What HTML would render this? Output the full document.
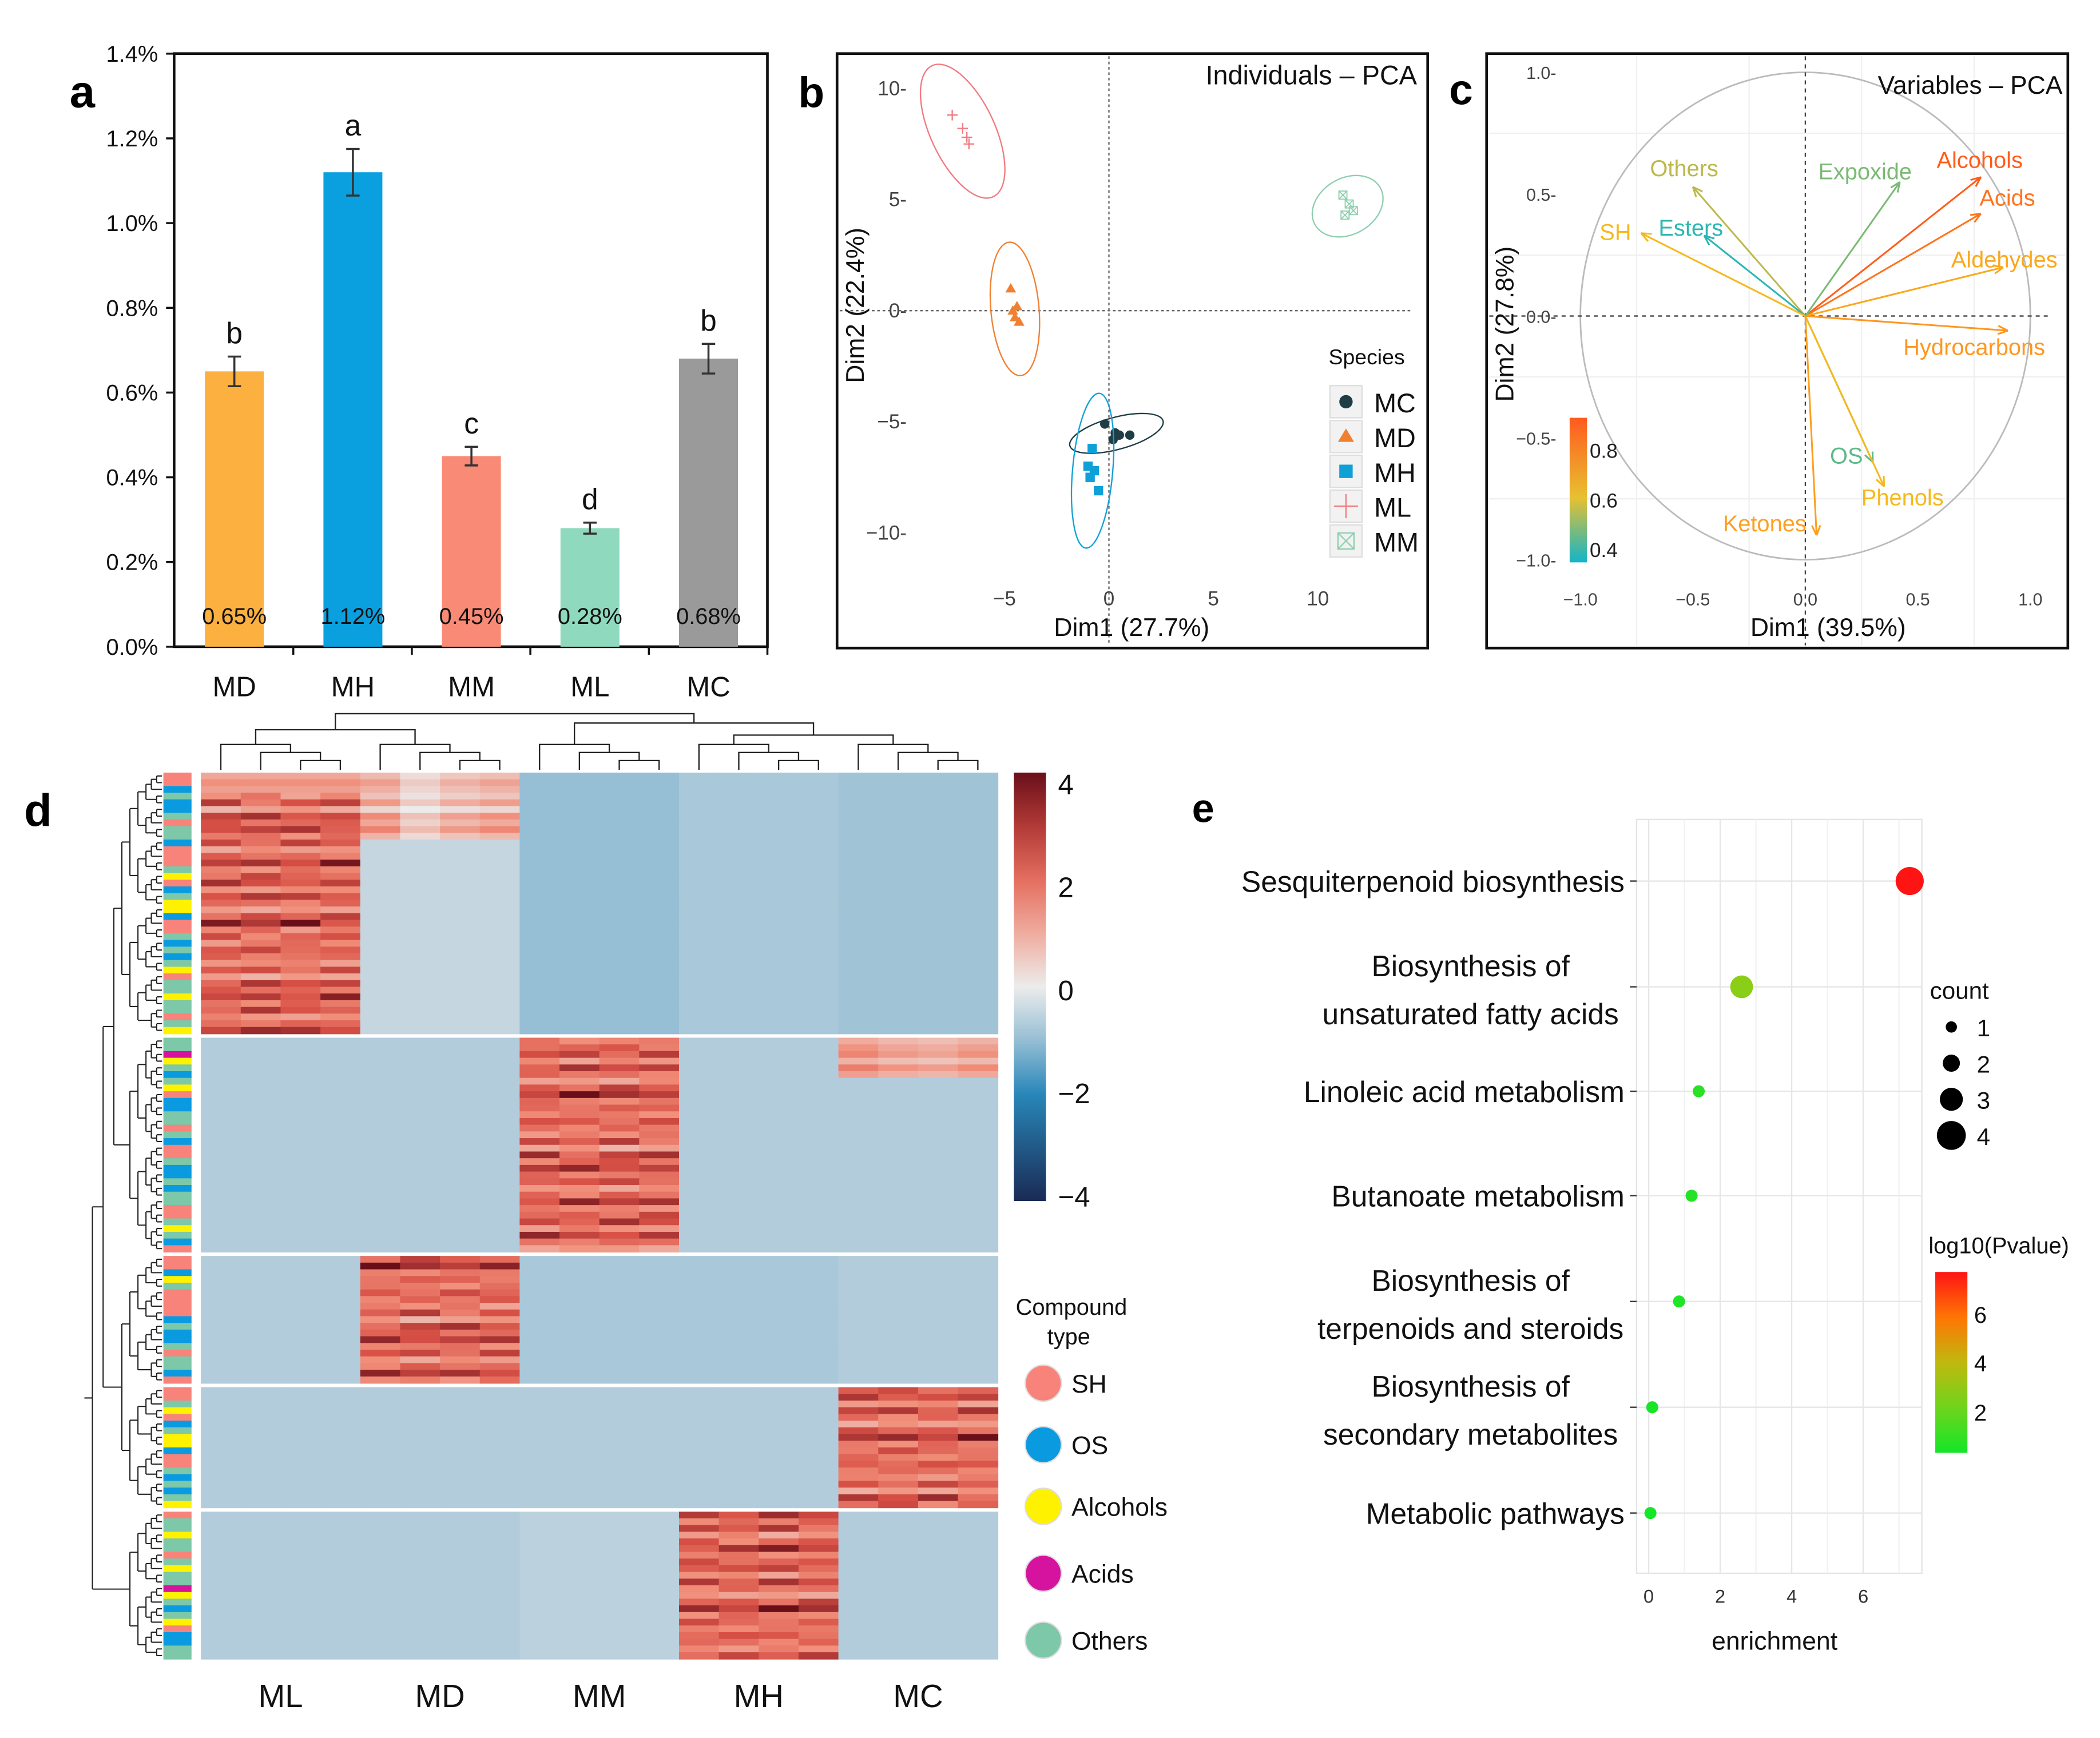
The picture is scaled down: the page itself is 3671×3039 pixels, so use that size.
<!DOCTYPE html>
<html><head><meta charset="utf-8"><style>
html,body{margin:0;padding:0;background:#fff}
svg{display:block}
text{font-family:"Liberation Sans",Arial,sans-serif}
</style></head><body>
<svg id="fig" xmlns="http://www.w3.org/2000/svg" width="3671" height="3039" viewBox="0 0 1568 1298">
<rect width="1568" height="1298" fill="#fff"/>
</svg>
<script>
// ---------- DATA ----------
const barCats = ['MD','MH','MM','ML','MC'];
const barVals = [0.65,1.12,0.45,0.28,0.68];
const barErr = [0.035,0.055,0.022,0.013,0.035];
const barLetters = ['b','a','c','d','b'];
const barColors = ['#FBB040','#0AA0DF','#F98B76','#8FD9BF','#9A9A9A'];
const yTicksA = [0,0.2,0.4,0.6,0.8,1.0,1.2,1.4];

const pcaSpecies = ['MC','MD','MH','ML','MM'];
const pcaX = [[-0.2,0.3,0.5,1.0,0.2],[-4.7,-4.6,-4.5,-4.4,-4.3],[-0.8,-0.7,-0.9,-0.5,-1.0],[-7.5,-7.0,-6.8,-6.7],[11.2,11.5,11.7,11.3]];
const pcaY = [[-5.1,-5.5,-5.6,-5.6,-5.8],[1.0,0.0,-0.3,0.2,-0.5],[-6.2,-7.2,-7.5,-8.1,-7.0],[8.8,8.2,7.8,7.5],[5.2,4.8,4.5,4.3]];
const xTicksB = [-5,0,5,10];
const yTicksB = [-10,-5,0,5,10];

const varNames = ['Alcohols','Acids','Aldehydes','Hydrocarbons','Expoxide','Others','Esters','SH','OS','Phenols','Ketones'];
const varX = [0.78,0.78,0.88,0.9,0.42,-0.5,-0.45,-0.73,0.3,0.35,0.05];
const varY = [0.57,0.42,0.2,-0.06,0.55,0.53,0.33,0.34,-0.6,-0.7,-0.9];
const varCos = [0.78,0.74,0.64,0.68,0.47,0.53,0.38,0.6,0.44,0.6,0.66];
const xTicksC = [-1.0,-0.5,0.0,0.5,1.0];
const yTicksC = [-1.0,-0.5,0.0,0.5,1.0];

const heatGroups = ['ML','MD','MM','MH','MC'];
const blockRows = [39,32,19,18,22];
const blockBase = [[0,-0.5,-1.0,-0.8,-0.9],[-0.7,-0.7,0,-0.7,-0.7],[-0.7,0,-0.8,-0.8,-0.7],[-0.7,-0.7,-0.7,-0.7,0],[-0.7,-0.7,-0.6,0,-0.7]];
const blockHi = [0,2,1,4,3];
const rowAmp = [1.8,2.4,2.0,1.6,2.5,1.2,2.8,2.2,3.0,1.9,2.6,1.4,2.1,3.2,1.7,2.3,2.7,1.5,2.9,2.0,1.3,2.4,3.4,1.8,2.2];
const colAmp = [1.0,0.8,1.1,0.9,1.2,0.7,1.0,1.15,0.85,0.95,1.05,0.75,1.1,0.9,1.0,0.8,1.2,0.95,0.85,1.05];
const compType = [0,0,1,4,1,1,4,0,4,4,1,0,0,0,4,2,0,1,4,2,2,1,0,0,4,1,4,1,4,2,0,4,4,2,4,4,0,4,2,4,4,3,2,4,1,4,2,0,1,1,4,4,0,4,1,0,0,4,1,1,4,1,4,4,0,0,4,2,4,1,0,0,0,1,2,4,0,0];
const typeNames = ['SH','OS','Alcohols','Acids','Others'];
const typeColors = ['#F8837A','#0A9AE0','#FFF200','#D6139F','#7CC8A8'];
const heatTicks = [4,2,0,-2,-4];

const pathNames = ['Sesquiterpenoid biosynthesis','Biosynthesis of|unsaturated fatty acids','Linoleic acid metabolism','Butanoate metabolism','Biosynthesis of|terpenoids and steroids','Biosynthesis of|secondary metabolites','Metabolic pathways'];
const pathEnrich = [7.3,2.6,1.4,1.2,0.85,0.1,0.05];
const pathCount = [4,3,1,1,1,1,1];
const pathLogP = [7,3,1.2,1.1,1.0,0.9,0.8];
const xTicksE = [0,2,4,6];

// ---------- HELPERS ----------
const S = document.getElementById('fig');
const NS = 'http://www.w3.org/2000/svg';
function mk(tag, attrs, parent){const e=document.createElementNS(NS,tag);for(const k in attrs)e.setAttribute(k,attrs[k]);(parent||S).appendChild(e);return e;}
function txt(x,y,s,size,anchor,fill,weight){const e=mk('text',{x:x,y:y,'font-size':size,'text-anchor':anchor||'start',fill:fill||'#111','font-weight':weight||'normal'});e.textContent=s;return e;}
let el;

// ---------- PANEL A ----------
const ay = v => 483 - v*316.4;
const ax = i => 175 + i*88.5;
el = txt(52,80,'a',34,'start','#000','bold');
 
el = mk('rect',{x:130,y:40,width:443,height:443,fill:'none',stroke:'#111','stroke-width':2});
 
yTicksA.forEach(v=>{
  el = mk('line',{x1:124,x2:130,y1:ay(v),y2:ay(v),stroke:'#111','stroke-width':1.5});
   
  el = txt(118,ay(v)+6,v.toFixed(1)+'%',17,'end');
   
});
barVals.forEach((v,i)=>{
  el = mk('rect',{x:ax(i)-22,y:ay(v),width:44,height:483-ay(v),fill:barColors[i]});
   
  const e1=ay(v+barErr[i]), e2=ay(v-barErr[i]);
  el = mk('path',{d:`M${ax(i)},${e1}V${e2}M${ax(i)-5},${e1}h10M${ax(i)-5},${e2}h10`,stroke:'#333','stroke-width':1.5,fill:'none'});
   
  el = txt(ax(i),e1-10,barLetters[i],22,'middle');
   
  el = txt(ax(i),466,(v).toFixed(2)+'%',17,'middle');
   
  el = txt(ax(i),520,barCats[i],21,'middle');
   
  el = mk('line',{x1:ax(i)+44,x2:ax(i)+44,y1:483,y2:489,stroke:'#111','stroke-width':1.5});
   
});

// ---------- PANEL B ----------
const bx = v => 828 + v*15.6;
const by = v => 232 - v*16.6;
el = txt(596,80,'b',32,'start','#000','bold');
 
el = mk('rect',{x:625,y:40,width:441,height:444,fill:'#fff',stroke:'#111','stroke-width':2});
 
el = txt(1058,63,'Individuals – PCA',20,'end');
 
el = mk('line',{x1:bx(0),x2:bx(0),y1:42,y2:482,stroke:'#666','stroke-dasharray':'2,2'});
 
el = mk('line',{x1:627,x2:1053,y1:by(0),y2:by(0),stroke:'#666','stroke-dasharray':'2,2'});
 
xTicksB.forEach(v=>{
  el = txt(bx(v),452,String(v).replace('-','−'),15,'middle','#444');
   
});
yTicksB.forEach(v=>{
  el = txt(677,by(v)+5,String(v).replace('-','−')+'-',15,'end','#444');
   
});
el = txt(845,475,'Dim1 (27.7%)',19,'middle');
 
el = txt(0,0,'Dim2 (22.4%)',19,'middle');
el.setAttribute('transform','translate(645,228) rotate(-90)');
 
const spColors = ['#1F3D45','#F08030','#10A0D8','#F07A80','#8ECFB0'];
const ellR = [[36,12,-15],[18,50,-5],[15,58,5],[24,54,-25],[28,21,-30]];
pcaSpecies.forEach((sp,k)=>{
  const mx = pcaX[k].reduce((a,b)=>a+b,0)/pcaX[k].length, my = pcaY[k].reduce((a,b)=>a+b,0)/pcaY[k].length;
  el = mk('ellipse',{cx:bx(mx),cy:by(my),rx:ellR[k][0],ry:ellR[k][1],fill:'none',stroke:spColors[k],'stroke-width':1,transform:`rotate(${ellR[k][2]} ${bx(mx)} ${by(my)})`});
   
  pcaX[k].forEach((xv,j)=>{
    const px=bx(xv), py=by(pcaY[k][j]);
    if(k==0){el=mk('circle',{cx:px,cy:py,r:3.5,fill:spColors[k]});}
    else if(k==1){el=mk('path',{d:`M${px},${py-4}L${px+4},${py+3}L${px-4},${py+3}Z`,fill:spColors[k]});}
    else if(k==2){el=mk('rect',{x:px-3.5,y:py-3.5,width:7,height:7,fill:spColors[k]});}
    else if(k==3){el=mk('path',{d:`M${px-4},${py}h8M${px},${py-4}v8`,stroke:spColors[k],'stroke-width':1});}
    else {el=mk('path',{d:`M${px-3},${py-3}h6v6h-6zM${px-3},${py-3}l6,6M${px+3},${py-3}l-6,6`,stroke:spColors[k],fill:'none','stroke-width':0.8});}
     
  });
  const ly = 300 + k*26;
  el = mk('rect',{x:993,y:ly-12,width:24,height:24,fill:'#f2f2f2',stroke:'#ddd'});
   
  const cx=1005, cy=ly;
  if(k==0) el=mk('circle',{cx:cx,cy:cy,r:5,fill:spColors[k]});
  else if(k==1) el=mk('path',{d:`M${cx},${cy-6}L${cx+6},${cy+4}L${cx-6},${cy+4}Z`,fill:spColors[k]});
  else if(k==2) el=mk('rect',{x:cx-5,y:cy-5,width:10,height:10,fill:spColors[k]});
  else if(k==3) el=mk('path',{d:`M${cx-9},${cy}h18M${cx},${cy-9}v18`,stroke:spColors[k]});
  else el=mk('path',{d:`M${cx-6},${cy-6}h12v12h-12zM${cx-6},${cy-6}l12,12M${cx+6},${cy-6}l-12,12`,stroke:spColors[k],fill:'none'});
   
  el = txt(1026,ly+8,sp,20,'start');
   
});
el = txt(992,272,'Species',16,'start');
 

// ---------- PANEL C ----------
const cxs = v => 1348 + v*168;
const cys = v => 236 - v*182;
el = txt(1082,78,'c',32,'start','#000','bold');
 
el = mk('rect',{x:1110,y:40,width:434,height:444,fill:'#fff',stroke:'#111','stroke-width':2});
 
[-0.75,-0.25,0.25,0.75].forEach(v=>{
  el=mk('line',{x1:cxs(v),x2:cxs(v),y1:42,y2:482,stroke:'#f0f0f0'});
   
  el=mk('line',{x1:1112,x2:1542,y1:cys(v),y2:cys(v),stroke:'#f0f0f0'});
   
});
el = mk('ellipse',{cx:cxs(0),cy:cys(0),rx:168,ry:182,fill:'none',stroke:'#bbb','stroke-width':1.2});
 
el = mk('line',{x1:cxs(0),x2:cxs(0),y1:42,y2:482,stroke:'#444','stroke-dasharray':'3,3'});
 
el = mk('line',{x1:1112,x2:1530,y1:cys(0),y2:cys(0),stroke:'#444','stroke-dasharray':'3,3'});
 
el = txt(1540,70,'Variables – PCA',19,'end');
 
xTicksC.forEach(v=>{
  el = txt(cxs(v),452,(v<0?'−':'')+Math.abs(v).toFixed(1),13,'middle','#444');
   
});
yTicksC.forEach(v=>{
  el = txt(1162,cys(v)+5,(v<0?'−':'')+Math.abs(v).toFixed(1)+'-',13,'end','#444');
   
});
el = txt(1365,475,'Dim1 (39.5%)',19,'middle');
 
el = txt(0,0,'Dim2 (27.8%)',19,'middle');
el.setAttribute('transform','translate(1130,242) rotate(-90)');
 
function cosColor(c){
  const st=[[0.35,[18,181,200]],[0.45,[100,185,130]],[0.52,[180,185,80]],[0.6,[245,185,30]],[0.68,[255,150,30]],[0.8,[255,80,25]]];
  c=Math.max(0.35,Math.min(0.8,c));
  for(let i=0;i<st.length-1;i++){if(c<=st[i+1][0]){const f=(c-st[i][0])/(st[i+1][0]-st[i][0]);return `rgb(${st[i][1].map((v,j)=>Math.round(v+(st[i+1][1][j]-v)*f)).join(',')})`;}}
  return 'rgb(255,80,25)';
}
const labOff = [[-33,-7],[-1,-6],[-39,0],[-78,18],[-61,-2],[-32,-8],[-34,0],[-31,5],[-32,1],[-17,14],[-70,-3]];
varNames.forEach((n,i)=>{
  const x2=cxs(varX[i]), y2=cys(varY[i]), col=cosColor(varCos[i]);
  const ang=Math.atan2(y2-cys(0),x2-cxs(0));
  el = mk('path',{d:`M${cxs(0)},${cys(0)}L${x2},${y2}M${x2},${y2}L${x2-8*Math.cos(ang-0.4)},${y2-8*Math.sin(ang-0.4)}M${x2},${y2}L${x2-8*Math.cos(ang+0.4)},${y2-8*Math.sin(ang+0.4)}`,stroke:col,'stroke-width':1.3,fill:'none'});
   
  el = txt(x2+labOff[i][0],y2+labOff[i][1],n,17,'start',col);
   
});
const gC = mk('linearGradient',{id:'gc',x1:0,y1:1,x2:0,y2:0});
[[0,'#12B5C8'],[0.45,'#E8C030'],[1,'#FF5A1F']].forEach(s=>mk('stop',{offset:s[0],'stop-color':s[1]},gC));
el = mk('rect',{x:1172,y:312,width:13,height:108,fill:'url(#gc)'});
 
[[0.8,342],[0.6,379],[0.4,416]].forEach(t=>{
  el = txt(1187,t[1],t[0].toFixed(1),15,'start','#222');
   
});

// ---------- PANEL D (heatmap) ----------
el = txt(18,617,'d',34,'start','#000','bold');
 
const hx0=150, hw=595/20, hy0=577, rh=5.0, gap=3;
function heatColor(v){
  v=Math.max(-4,Math.min(4,v));
  const st=[[-4,[26,42,85]],[-2,[40,135,185]],[-1,[150,190,212]],[-0.5,[198,214,224]],[0,[236,236,236]],[1.5,[240,140,120]],[2.5,[215,80,70]],[4,[105,15,25]]];
  for(let i=0;i<st.length-1;i++){ if(v<=st[i+1][0]){const f=(v-st[i][0])/(st[i+1][0]-st[i][0]);return `rgb(${st[i][1].map((c,j)=>Math.round(c+(st[i+1][1][j]-c)*f)).join(',')})`;}}
  return 'rgb(105,15,25)';
}
let rowIdx=0, yCur=hy0;
const blockY=[];
let dp='';
function dendro(y0,n,depthX){ // returns [x,y] of node; builds path for n leaves starting at y0
  if(n===1){const y=y0+rh/2; dp+=`M${depthX},${y}H121`; return [depthX,y];}
  const n1=Math.ceil(n/2), n2=n-n1;
  const x=121-5*Math.log2(n)-2;
  const a=dendro(y0,n1,x+0), b=dendro(y0+n1*rh,n2,x+0);
  return [x,(a[1]+b[1])/2, dp+=`M${x},${a[1]}V${b[1]}`][0] !== undefined ? [x,(a[1]+b[1])/2] : null;
}
// simpler explicit recursive dendrogram
function dnode(y0,n){
  if(n===1){return {x:121,y:y0+rh/2};}
  const n1=Math.ceil(n/2);
  const a=dnode(y0,n1), b=dnode(y0+n1*rh,n-n1);
  const x=Math.min(a.x,b.x)-4-(n>8?2:0);
  dp+=`M${a.x},${a.y}H${x}M${b.x},${b.y}H${x}M${x},${a.y}V${b.y}`;
  return {x:x,y:(a.y+b.y)/2};
}
const blockNodes=[];
blockRows.forEach((n,b)=>{
  blockY.push([yCur,yCur+n*rh]);
  blockNodes.push(dnode(yCur,n));
  for(let r=0;r<n;r++){
    const amp=rowAmp[rowIdx%rowAmp.length];
    for(let c=0;c<20;c++){
      const g=Math.floor(c/4);
      let v=blockBase[b][g];
      if(b===0 && g===1 && r<10) v=amp*colAmp[c]*0.6-0.5;
      if(b===1 && g===4 && r<6) v=amp*colAmp[c]*0.5;
      if(g===blockHi[b]) v=amp*colAmp[(c+rowIdx)%20];
      if(b===0 && g===0 && r<3) v=amp*0.6;
      el = mk('rect',{x:hx0+c*hw,y:yCur+r*rh,width:hw+0.4,height:rh+0.4,fill:heatColor(v)});
       
    }
    const t=compType[rowIdx%compType.length];
    el = mk('rect',{x:122,y:yCur+r*rh,width:21,height:rh+0.4,fill:typeColors[t]});
     
    rowIdx++;
  }
  yCur+=n*rh+gap;
});
const bn=blockNodes;
const j01={x:Math.min(bn[0].x,bn[1].x)-6,y:(bn[0].y+bn[1].y)/2};
const j23={x:Math.min(bn[2].x,bn[3].x)-6,y:(bn[2].y+bn[3].y)/2};
const j0123={x:Math.min(j01.x,j23.x)-8,y:(j01.y+j23.y)/2};
const jroot={x:j0123.x-8,y:(j0123.y+bn[4].y)/2};
function join(a,b,j){dp+=`M${a.x},${a.y}H${j.x}M${b.x},${b.y}H${j.x}M${j.x},${a.y}V${b.y}`;}
join(bn[0],bn[1],j01); join(bn[2],bn[3],j23); join(j01,j23,j0123); join(j0123,bn[4],jroot);
dp+=`M${jroot.x},${jroot.y}H${jroot.x-6}`;
el = mk('path',{d:dp,stroke:'#222','stroke-width':0.9,fill:'none'});
 
// top dendrogram
let tp='';
const cc=c=>hx0+c*hw+hw/2;
for(let g=0;g<5;g++){
  const a=g*4;
  tp+=`M${cc(a+2)},575V568H${cc(a+3)}V575M${(cc(a+2)+cc(a+3))/2},568V562H${cc(a+1)}V575M${(cc(a+1)+(cc(a+2)+cc(a+3))/2)/2},562V556H${cc(a)}V575`;
}
const gm=g=>(cc(g*4)+(cc(g*4+1)+(cc(g*4+2)+cc(g*4+3))/2)/2)/2;
tp+=`M${gm(0)},556V545H${gm(1)}V556M${gm(3)},556V549H${gm(4)}V556M${gm(2)},556V540H${(gm(3)+gm(4))/2}V549M${(gm(0)+gm(1))/2},545V533H${(gm(2)+(gm(3)+gm(4))/2)/2}V540`;
el = mk('path',{d:tp,stroke:'#222','stroke-width':1,fill:'none'});
 
heatGroups.forEach((g,i)=>{
  el = txt(hx0+(i*4+2)*hw,1275,g,24,'middle');
   
});
const gD = mk('linearGradient',{id:'gd',x1:0,y1:1,x2:0,y2:0});
[-4,-3,-2,-1,0,1,2,3,4].forEach((v,i)=>mk('stop',{offset:i/8,'stop-color':heatColor(v)},gD));
el = mk('rect',{x:757,y:577,width:24,height:320,fill:'url(#gd)'});
 
heatTicks.forEach((v,i)=>{
  el = txt(790,593+i*77,String(v).replace('-','−'),21,'start');
   
});
el = txt(800,982,'Compound',17,'middle');
 
el = txt(798,1004,'type',17,'middle');
 
typeNames.forEach((n,i)=>{
  const yy=[1033,1079,1125,1175,1225][i];
  el = mk('circle',{cx:779,cy:yy,r:13.5,fill:typeColors[i],stroke:'#ddd'});
   
  el = txt(800,yy+7,n,19,'start');
   
});

// ---------- PANEL E ----------
const ex = v => 1231 + v*26.7;
const eyRows=[658,737,815,893,972,1051,1130];
el = txt(890,614,'e',30,'start','#000','bold');
 
el = mk('rect',{x:1222,y:612,width:213,height:563,fill:'#fff',stroke:'#e4e4e4'});
 
[1,3,5,7].forEach(v=>{el=mk('line',{x1:ex(v),x2:ex(v),y1:612,y2:1175,stroke:'#f2f2f2'});
   });
xTicksE.forEach(v=>{
  el=mk('line',{x1:ex(v),x2:ex(v),y1:612,y2:1175,stroke:'#e6e6e6'});
   
  el = txt(ex(v),1197,String(v),14,'middle','#333');
   
});
el = txt(1325,1232,'enrichment',19,'middle');
 
function pColor(v){const t=Math.max(0,Math.min(1,(v-0.8)/6.2));const st=[[0,[20,230,40]],[0.45,[170,200,20]],[0.7,[255,140,0]],[1,[255,20,20]]];
  for(let i=0;i<st.length-1;i++){if(t<=st[i+1][0]){const f=(t-st[i][0])/(st[i+1][0]-st[i][0]);return `rgb(${st[i][1].map((c,j)=>Math.round(c+(st[i+1][1][j]-c)*f)).join(',')})`;}}return 'red';}
pathNames.forEach((n,i)=>{
  const y=eyRows[i];
  el=mk('line',{x1:1222,x2:1435,y1:y,y2:y,stroke:'#e6e6e6'});
   
  el=mk('line',{x1:1217,x2:1222,y1:y,y2:y,stroke:'#333'});
   
  const parts=n.split('|');
  if(parts.length===1){el=txt(1213,y+8,parts[0],22,'end');}
  else{el=txt(1098,y-8,parts[0],22,'middle');
     
    el=txt(1098,y+28,parts[1],22,'middle');}
   
  el=mk('circle',{cx:ex(pathEnrich[i]),cy:y,r:2.5+pathCount[i]*2,fill:pColor(pathLogP[i])});
   
});
el = txt(1441,746,'count',18,'start');
 
[1,2,3,4].forEach((c,i)=>{
  const y=767+i*27;
  el=mk('circle',{cx:1457,cy:y,r:2+c*2.2,fill:'#000'});
   
  el=txt(1476,y+7,String(c),18,'start');
   
});
el = txt(1440,936,'log10(Pvalue)',17,'start');
 
const gE = mk('linearGradient',{id:'ge',x1:0,y1:1,x2:0,y2:0});
[0.8,2.5,4,5.5,7].forEach((v,i)=>mk('stop',{offset:i/4,'stop-color':pColor(v)},gE));
el = mk('rect',{x:1445,y:950,width:24,height:135,fill:'url(#ge)'});
 
[[6,982],[4,1018],[2,1055]].forEach(t=>{
  el=txt(1474,t[1]+6,String(t[0]),17,'start');
   
});
</script>
</body></html>
